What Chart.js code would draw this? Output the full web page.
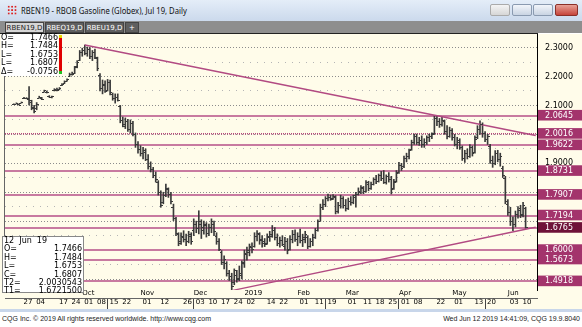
<!DOCTYPE html>
<html lang="en">
<head>
<meta charset="UTF-8">
<title>RBEN19 - RBOB Gasoline (Globex), Jul 19, Daily</title>
<script src="https://cdn.jsdelivr.net/npm/chart.js"></script>
<style>
  body { margin: 0; width: 582px; height: 327px; overflow: hidden; background: #fff; position: relative; font-family: "DejaVu Sans", sans-serif; }
  .abs { position: absolute; }
  #titlebar { left: 0; top: 0; width: 582px; height: 21px; background: linear-gradient(#e4edf8, #cbd9ec); }
  #titletext { left: 21px; top: 4px; font: 9px "Noto Sans", sans-serif; color: #111; white-space: nowrap; transform: scaleX(0.85); transform-origin: 0 0; }
  #icon { left: 7px; top: 5px; width: 10px; height: 10px; background: radial-gradient(circle, #d22 35%, transparent 40%) 0 0 / 3.4px 3.4px; }
  .wbtn { top: 4px; height: 12px; border: 1px solid #8a9ab0; border-radius: 2px; background: linear-gradient(#f2f5fa, #c9d4e3); box-sizing: border-box; }
  #tabs { left: 0; top: 21px; width: 582px; height: 12px; background: #8e8e8e; }
  .tab { top: 1px; height: 11px; font: 7px "DejaVu Sans", sans-serif; line-height: 11px; text-align: center; color: #fff; background: #5f5f5f; border: 1px solid #444; box-sizing: border-box; }
  #topline { left: 0; top: 33px; width: 538px; height: 1px; background: #222; }
  #leftline { left: 4px; top: 34px; width: 1px; height: 256px; background: #666; }
  #chartwrap { left: 0; top: 34px; width: 582px; height: 275px; background: #fffcea; }
  #chartwrap canvas { display: block; }
  #frame { left: 0; top: 309px; width: 582px; height: 3px; background: #c8d6ea; }
  #footer { left: 0; top: 312px; width: 582px; height: 15px; background: #fff; font: 7px "Liberation Sans", sans-serif; color: #222; }
  .box { background: #fff; font: 8px "DejaVu Sans", sans-serif; color: #000; }
  .row { display: flex; justify-content: space-between; height: 8.4px; line-height: 8.4px; white-space: nowrap; }
</style>
</head>
<body>
<div id="titlebar" class="abs">
  <div id="icon" class="abs"></div>
  <div id="titletext" class="abs">RBEN19 - RBOB Gasoline (Globex), Jul 19, Daily</div>
  <div class="abs wbtn" style="left:490px;width:20px;background:linear-gradient(#f4f4f4,#d6d6d6);border-color:#aaa"></div>
  <div class="abs wbtn" style="left:512px;width:20px"></div>
  <div class="abs wbtn" style="left:533px;width:20px"></div>
  <div class="abs wbtn" style="left:555px;width:23px;background:linear-gradient(#e8a197,#c6443a);border-color:#8a2f28"></div>
</div>
<div id="tabs" class="abs">
  <div class="abs tab" style="left:5px;width:39px;background:#d6d6d6;color:#222">RBEN19,D</div>
  <div class="abs tab" style="left:45px;width:39px">RBEQ19,D</div>
  <div class="abs tab" style="left:85px;width:39px">RBEU19,D</div>
  <div class="abs tab" style="left:125px;width:14px">+</div>
</div>
<div id="chartwrap" class="abs"><canvas id="chart" width="582" height="275"></canvas></div>
<div id="topline" class="abs"></div>
<div id="leftline" class="abs"></div>

<div class="abs box" style="left:1px;top:34px;width:57px;height:42px;">
  <div class="row"><span>O=</span><span>1.7466</span></div>
  <div class="row"><span>H=</span><span>1.7484</span></div>
  <div class="row"><span>L=</span><span>1.6753</span></div>
  <div class="row"><span>L=</span><span>1.6807</span></div>
  <div class="row"><span>&Delta;=</span><span>-0.0756</span></div>
</div>
<div class="abs" style="left:59px;top:37px;width:3px;height:36px;background:#e00000"></div>
<div class="abs" style="left:59px;top:35px;width:3px;height:3px;background:#e8d800"></div>
<div class="abs" style="left:59px;top:71px;width:3px;height:3px;background:#20c020"></div>

<div class="abs box" style="left:2px;top:236px;width:82px;height:57px;border:1px solid #888;padding:0 1px;box-sizing:border-box;">
  <div class="row"><span>12&nbsp; Jun&nbsp; 19</span><span></span></div>
  <div class="row"><span>O=</span><span>1.7466</span></div>
  <div class="row"><span>H=</span><span>1.7484</span></div>
  <div class="row"><span>L=</span><span>1.6753</span></div>
  <div class="row"><span>C=</span><span>1.6807</span></div>
  <div class="row"><span>T2=</span><span>2.0030543</span></div>
  <div class="row"><span>T1=</span><span>1.6721500</span></div>
</div>

<div id="frame" class="abs"></div>
<div id="footer" class="abs">
  <div class="abs" style="left:2px;top:3px">CQG Inc. &copy; 2019 All rights reserved worldwide. http://www.cqg.com</div>
  <div class="abs" style="right:2px;top:3px">Wed Jun 12 2019 14:41:09, CQG 19.9.8040</div>
</div>

<script>
const padBefore = ['2018-08-17', '2018-08-20', '2018-08-21'];
const padAfter = ['2019-06-13', '2019-06-14', '2019-06-17', '2019-06-18'];
const dates = [
  '2018-08-22','2018-08-23','2018-08-24','2018-08-27','2018-08-28','2018-08-29','2018-08-30','2018-08-31',
  '2018-09-04','2018-09-05','2018-09-06','2018-09-07','2018-09-10','2018-09-11','2018-09-12','2018-09-13','2018-09-14',
  '2018-09-17','2018-09-18','2018-09-19','2018-09-20','2018-09-21','2018-09-24','2018-09-25','2018-09-26','2018-09-27','2018-09-28',
  '2018-10-01','2018-10-02','2018-10-03','2018-10-04','2018-10-05','2018-10-08','2018-10-09','2018-10-10','2018-10-11','2018-10-12',
  '2018-10-15','2018-10-16','2018-10-17','2018-10-18','2018-10-19','2018-10-22','2018-10-23','2018-10-24','2018-10-25','2018-10-26',
  '2018-10-29','2018-10-30','2018-10-31',
  '2018-11-01','2018-11-02','2018-11-05','2018-11-06','2018-11-07','2018-11-08','2018-11-09','2018-11-12','2018-11-13','2018-11-14',
  '2018-11-15','2018-11-16','2018-11-19','2018-11-20','2018-11-21','2018-11-23','2018-11-26','2018-11-27','2018-11-28','2018-11-29','2018-11-30',
  '2018-12-03','2018-12-04','2018-12-05','2018-12-06','2018-12-07','2018-12-10','2018-12-11','2018-12-12','2018-12-13','2018-12-14',
  '2018-12-17','2018-12-18','2018-12-19','2018-12-20','2018-12-21','2018-12-24','2018-12-26','2018-12-27','2018-12-28','2018-12-31',
  '2019-01-02','2019-01-03','2019-01-04','2019-01-07','2019-01-08','2019-01-09','2019-01-10','2019-01-11','2019-01-14','2019-01-15',
  '2019-01-16','2019-01-17','2019-01-18','2019-01-22','2019-01-23','2019-01-24','2019-01-25','2019-01-28','2019-01-29','2019-01-30','2019-01-31',
  '2019-02-01','2019-02-04','2019-02-05','2019-02-06','2019-02-07','2019-02-08','2019-02-11','2019-02-12','2019-02-13','2019-02-14',
  '2019-02-15','2019-02-19','2019-02-20','2019-02-21','2019-02-22','2019-02-25','2019-02-26','2019-02-27','2019-02-28',
  '2019-03-01','2019-03-04','2019-03-05','2019-03-06','2019-03-07','2019-03-08','2019-03-11','2019-03-12','2019-03-13','2019-03-14',
  '2019-03-15','2019-03-18','2019-03-19','2019-03-20','2019-03-21','2019-03-22','2019-03-25','2019-03-26','2019-03-27','2019-03-28','2019-03-29',
  '2019-04-01','2019-04-02','2019-04-03','2019-04-04','2019-04-05','2019-04-08','2019-04-09','2019-04-10','2019-04-11','2019-04-12',
  '2019-04-15','2019-04-16','2019-04-17','2019-04-18','2019-04-22','2019-04-23','2019-04-24','2019-04-25','2019-04-26','2019-04-29','2019-04-30',
  '2019-05-01','2019-05-02','2019-05-03','2019-05-06','2019-05-07','2019-05-08','2019-05-09','2019-05-10','2019-05-13','2019-05-14',
  '2019-05-15','2019-05-16','2019-05-17','2019-05-20','2019-05-21','2019-05-22','2019-05-23','2019-05-24','2019-05-28','2019-05-29',
  '2019-05-30','2019-05-31',
  '2019-06-03','2019-06-04','2019-06-05','2019-06-06','2019-06-07','2019-06-10','2019-06-11','2019-06-12'
];
const opens = [
  2.105,2.106,2.104,2.109,2.125,2.126,2.125,2.113,2.095,2.090,
  2.127,2.126,2.148,2.148,2.133,2.128,2.152,2.155,2.156,2.170,
  2.178,2.186,2.203,2.210,2.212,2.235,2.258,2.285,2.290,2.280,
  2.295,2.270,2.285,2.265,2.205,2.160,2.170,2.155,2.180,2.140,
  2.125,2.128,2.098,2.050,2.030,2.045,2.020,2.040,2.000,1.965,
  1.950,1.935,1.940,1.915,1.890,1.880,1.860,1.835,1.800,1.765,
  1.790,1.810,1.795,1.750,1.710,1.655,1.630,1.645,1.640,1.632,
  1.650,1.670,1.690,1.675,1.690,1.670,1.685,1.660,1.680,1.690,
  1.650,1.630,1.595,1.560,1.555,1.520,1.510,1.490,1.515,1.505,
  1.515,1.560,1.585,1.595,1.610,1.615,1.650,1.655,1.640,1.630,
  1.625,1.645,1.650,1.670,1.645,1.625,1.635,1.615,1.630,1.605,
  1.640,1.655,1.640,1.650,1.635,1.640,1.645,1.615,1.630,1.645,
  1.670,1.702,1.750,1.758,1.780,1.785,1.780,1.785,1.735,1.755,
  1.780,1.755,1.745,1.770,1.765,1.790,1.795,1.800,1.815,1.805,
  1.830,1.815,1.828,1.845,1.840,1.858,1.850,1.835,1.855,1.845,
  1.815,1.840,1.870,1.895,1.890,1.918,1.925,1.948,1.975,1.995,
  1.975,1.980,1.965,1.975,1.990,1.995,2.005,2.055,2.045,2.035,
  2.045,2.010,1.995,2.015,1.990,1.965,1.975,1.955,1.920,1.935,
  1.925,1.955,1.940,1.990,2.020,2.035,2.005,1.985,1.960,1.910,
  1.900,1.935,1.915,1.885,1.850,1.760,1.730,1.700,1.690,1.725,
  1.745,1.725,1.7466
];
const highs = [
  2.106,2.109,2.106,2.112,2.128,2.127,2.165,2.118,2.100,2.110,
  2.132,2.128,2.153,2.150,2.134,2.132,2.158,2.160,2.162,2.176,
  2.185,2.192,2.212,2.215,2.235,2.255,2.290,2.298,2.309,2.302,
  2.300,2.290,2.295,2.267,2.210,2.188,2.185,2.190,2.188,2.143,
  2.140,2.140,2.100,2.060,2.057,2.052,2.050,2.045,2.005,1.975,
  1.961,1.955,1.950,1.930,1.905,1.886,1.870,1.840,1.805,1.800,
  1.828,1.815,1.800,1.759,1.713,1.660,1.660,1.667,1.655,1.665,
  1.660,1.708,1.700,1.736,1.705,1.700,1.695,1.690,1.708,1.700,
  1.660,1.640,1.598,1.580,1.560,1.530,1.520,1.535,1.530,1.545,
  1.563,1.600,1.610,1.621,1.625,1.660,1.667,1.660,1.650,1.640,
  1.656,1.665,1.685,1.678,1.656,1.645,1.650,1.644,1.640,1.650,
  1.668,1.670,1.660,1.673,1.655,1.665,1.650,1.640,1.655,1.675,
  1.705,1.759,1.775,1.785,1.794,1.790,1.792,1.788,1.765,1.790,
  1.785,1.775,1.780,1.785,1.790,1.800,1.815,1.823,1.820,1.840,
  1.838,1.835,1.850,1.858,1.863,1.872,1.875,1.860,1.868,1.855,
  1.845,1.875,1.903,1.900,1.925,1.935,1.949,1.980,2.001,2.001,
  1.990,1.995,1.985,1.995,2.001,2.005,2.065,2.062,2.055,2.060,
  2.050,2.030,2.025,2.020,2.000,1.990,1.985,1.960,1.945,1.950,
  1.965,1.960,1.995,2.030,2.047,2.040,2.010,2.000,1.966,1.925,
  1.944,1.945,1.935,1.890,1.855,1.775,1.748,1.715,1.735,1.750,
  1.755,1.765,1.7484
];
const lows = [
  2.104,2.105,2.102,2.108,2.124,2.123,2.102,2.085,2.074,2.085,
  2.125,2.120,2.146,2.143,2.128,2.126,2.150,2.150,2.154,2.168,
  2.176,2.184,2.200,2.205,2.210,2.230,2.255,2.270,2.275,2.270,
  2.262,2.255,2.262,2.220,2.150,2.140,2.145,2.150,2.136,2.118,
  2.108,2.115,2.040,2.026,2.020,2.010,2.005,1.995,1.955,1.935,
  1.925,1.915,1.909,1.880,1.870,1.850,1.835,1.790,1.748,1.760,
  1.785,1.782,1.760,1.702,1.650,1.615,1.620,1.628,1.615,1.625,
  1.620,1.650,1.660,1.656,1.640,1.655,1.645,1.650,1.660,1.650,
  1.620,1.598,1.550,1.535,1.510,1.495,1.460,1.480,1.489,1.494,
  1.500,1.540,1.565,1.580,1.590,1.610,1.632,1.620,1.610,1.612,
  1.620,1.630,1.644,1.635,1.615,1.610,1.615,1.600,1.587,1.600,
  1.625,1.630,1.615,1.625,1.612,1.625,1.605,1.610,1.615,1.640,
  1.665,1.700,1.740,1.750,1.770,1.772,1.775,1.725,1.728,1.745,
  1.745,1.735,1.740,1.755,1.760,1.748,1.790,1.795,1.795,1.800,
  1.805,1.810,1.825,1.830,1.835,1.840,1.830,1.828,1.835,1.794,
  1.810,1.835,1.865,1.875,1.885,1.905,1.915,1.945,1.965,1.965,
  1.962,1.955,1.955,1.965,1.975,1.985,2.000,2.030,2.024,2.028,
  2.000,1.984,1.990,1.980,1.960,1.950,1.948,1.910,1.903,1.915,
  1.920,1.925,1.935,1.985,2.000,1.990,1.975,1.965,1.900,1.886,
  1.895,1.905,1.890,1.851,1.760,1.720,1.685,1.667,1.680,1.710,
  1.712,1.715,1.6753
];
const closes = [
  2.105,2.108,2.103,2.111,2.127,2.124,2.120,2.090,2.080,2.105,
  2.130,2.122,2.152,2.145,2.130,2.131,2.156,2.152,2.160,2.174,
  2.183,2.190,2.210,2.207,2.232,2.250,2.285,2.290,2.280,2.295,
  2.270,2.285,2.268,2.230,2.160,2.175,2.150,2.180,2.145,2.125,
  2.130,2.120,2.050,2.035,2.045,2.020,2.040,2.000,1.965,1.950,
  1.935,1.945,1.915,1.890,1.880,1.860,1.845,1.800,1.755,1.790,
  1.815,1.795,1.770,1.710,1.660,1.625,1.650,1.640,1.630,1.655,
  1.630,1.690,1.675,1.700,1.680,1.690,1.660,1.680,1.700,1.665,
  1.630,1.605,1.560,1.570,1.520,1.510,1.475,1.530,1.500,1.520,
  1.555,1.590,1.600,1.615,1.605,1.650,1.660,1.635,1.625,1.620,
  1.650,1.655,1.670,1.645,1.625,1.635,1.620,1.630,1.600,1.640,
  1.655,1.640,1.650,1.635,1.645,1.655,1.615,1.630,1.645,1.670,
  1.700,1.750,1.760,1.780,1.785,1.778,1.788,1.735,1.755,1.780,
  1.755,1.745,1.770,1.765,1.785,1.795,1.805,1.818,1.805,1.835,
  1.815,1.828,1.845,1.840,1.858,1.850,1.835,1.855,1.845,1.810,
  1.835,1.868,1.895,1.885,1.918,1.925,1.945,1.975,1.995,1.975,
  1.980,1.965,1.975,1.990,1.995,2.000,2.055,2.045,2.035,2.050,
  2.010,1.995,2.015,1.990,1.965,1.980,1.955,1.920,1.935,1.925,
  1.955,1.935,1.985,2.020,2.035,2.005,1.985,1.995,1.910,1.900,
  1.935,1.915,1.925,1.860,1.770,1.730,1.700,1.690,1.725,1.740,
  1.722,1.7563,1.6807
];

// horizontal study lines and the right-axis price labels
const levels = [2.0645, 2.0016, 1.9622, 1.8731, 1.7907, 1.7194, 1.6765, 1.6000, 1.5673, 1.4918];
const axisPrices = [2.3, 2.2, 2.1, 1.9];
const gridPrices = [2.3, 2.25, 2.2, 2.15, 2.1, 2.05, 2.0, 1.95, 1.9, 1.85, 1.8, 1.75, 1.7, 1.65, 1.55, 1.5];

// trend lines (date, price)
const t2Dates = ['2018-10-02', '2019-06-12', '2019-06-18'];
const t2Prices = [2.309, 2.0030543, 1.9960];
const t1Dates = ['2018-12-24', '2019-06-12', '2019-06-18'];
const t1Prices = [1.460, 1.6721500, 1.6795];

const monthDates = ['2018-10-01','2018-11-01','2018-12-03','2019-01-02','2019-02-01','2019-03-01','2019-04-01','2019-05-01','2019-06-03'];
const monthNames = ['Oct','Nov','Dec','2019','Feb','Mar','Apr','May','Jun'];
const dayDates = ['2018-08-27','2018-09-04','2018-09-17','2018-09-24','2018-10-01','2018-10-08','2018-10-15','2018-10-22',
  '2018-11-01','2018-11-12','2018-11-26','2018-12-03','2018-12-10','2018-12-17','2018-12-24','2019-01-02','2019-01-14','2019-01-22',
  '2019-02-01','2019-02-11','2019-02-19','2019-03-01','2019-03-11','2019-03-18','2019-03-25','2019-04-01','2019-04-08','2019-04-22',
  '2019-05-01','2019-05-13','2019-05-20','2019-06-03','2019-06-10'];

const cats = [...padBefore, ...dates, ...padAfter];
const barData = cats.map(c => { const i = dates.indexOf(c); return i < 0 ? null : [lows[i], highs[i]]; });
const lineData = (ds, ps) => cats.map(c => { const i = ds.indexOf(c); return i < 0 ? null : ps[i]; });

const isLevel = v => levels.includes(v);
const levelLine = 'rgb(200,122,160)';
const barColor = '#3a3a3a';

// open / close ticks beside each high-low bar
const ohlcTicks = {
  id: 'ohlcTicks',
  afterDatasetsDraw(chart) {
    const meta = chart.getDatasetMeta(2);
    const y = chart.scales.y;
    const ctx = chart.ctx;
    ctx.save();
    ctx.strokeStyle = barColor;
    ctx.lineWidth = 1;
    meta.data.forEach((bar, k) => {
      const i = dates.indexOf(cats[k]);
      if (i < 0 || !bar) return;
      const x = Math.round(bar.x);
      const yo = Math.round(y.getPixelForValue(opens[i])) + 0.5;
      const yc = Math.round(y.getPixelForValue(closes[i])) + 0.5;
      ctx.beginPath();
      ctx.moveTo(x - 2, yo); ctx.lineTo(x, yo);
      ctx.moveTo(x, yc); ctx.lineTo(x + 2, yc);
      ctx.stroke();
    });
    ctx.restore();
  }
};

const noPad = s => { s.paddingTop = 0; s.paddingBottom = 0; s.paddingLeft = 0; s.paddingRight = 0; };

new Chart(document.getElementById('chart'), {
  data: {
    labels: cats,
    datasets: [
      { type: 'line', label: 'T2', data: lineData(t2Dates, t2Prices), spanGaps: true, borderColor: '#b24a82', borderWidth: 1.4, pointRadius: 0, order: 0 },
      { type: 'line', label: 'T1', data: lineData(t1Dates, t1Prices), spanGaps: true, borderColor: '#b24a82', borderWidth: 1.4, pointRadius: 0, order: 0 },
      { type: 'bar', label: 'RBEN19', data: barData, backgroundColor: barColor, barThickness: 1, order: 1 }
    ]
  },
  options: {
    responsive: false,
    animation: false,
    devicePixelRatio: 1,
    layout: { autoPadding: false, padding: { left: 5, top: 0, right: 0, bottom: 0 } },
    plugins: { legend: { display: false }, tooltip: { enabled: false } },
    scales: {
      x: {
        type: 'category', position: 'bottom', weight: 0, offset: true,
        afterFit: s => { s.height = 8; noPad(s); },
        ticks: {
          autoSkip: false, maxRotation: 0, align: 'start', padding: -1,
          font: { family: 'DejaVu Sans', size: 7 }, color: '#000',
          callback: (v, i) => { const k = monthDates.indexOf(cats[i]); return k < 0 ? null : monthNames[k]; }
        },
        grid: {
          offset: false, drawTicks: false,
          color: c => monthDates.includes(cats[c.index]) ? '#8c8c8c' : 'rgba(0,0,0,0)'
        },
        border: { display: false, dash: [1, 2] }
      },
      xd: {
        type: 'category', position: 'bottom', weight: 1, offset: true,
        afterFit: s => { s.height = 11; noPad(s); },
        ticks: {
          autoSkip: false, maxRotation: 0, align: 'start', padding: -11, labelOffset: 2,
          font: { family: 'DejaVu Sans', size: 7 }, color: '#000',
          callback: (v, i) => dayDates.includes(cats[i]) ? cats[i].slice(8) : null
        },
        grid: {
          offset: false, drawOnChartArea: false, drawTicks: true, tickLength: 11,
          color: 'rgba(0,0,0,0)',
          tickColor: c => dayDates.includes(cats[c.index]) ? '#444' : 'rgba(0,0,0,0)'
        },
        border: { display: true, color: '#666', width: 1 }
      },
      y: {
        position: 'right', min: 1.462, max: 2.347,
        afterFit: s => { s.width = 45; noPad(s); },
        afterBuildTicks: s => { s.ticks = [...gridPrices, ...levels].sort((a, b) => a - b).map(v => ({ value: v })); },
        ticks: {
          autoSkip: false, padding: 8,
          font: { family: 'DejaVu Sans', size: 8 },
          color: c => isLevel(c.tick.value) ? '#fff' : '#000',
          showLabelBackdrop: true,
          backdropColor: c => !isLevel(c.tick.value) ? 'rgba(0,0,0,0)' : (c.tick.value === 1.6765 ? '#6e1238' : '#a3346c'),
          backdropPadding: { top: 1, bottom: 0, left: 7, right: 9 },
          callback: v => (isLevel(v) || axisPrices.includes(v)) ? v.toFixed(4) : ''
        },
        grid: {
          drawTicks: false,
          color: c => {
            if (!c.tick) return '#000';
            const v = c.tick.value;
            if (v === 2.0016) return '#b8487c';
            if (isLevel(v)) return levelLine;
            return Math.round(v * 100) % 10 === 0 ? '#8c8c8c' : '#b5b5b5';
          },
          lineWidth: c => {
            if (!c.tick) return 1;
            if (c.tick.value === 2.0016) return 1.5;
            return isLevel(c.tick.value) ? 2 : 1;
          }
        },
        border: {
          display: true, color: '#000', width: 1,
          dash: c => {
            if (!c.tick) return [];
            const v = c.tick.value;
            if (v === 2.0016) return [1, 1];
            if (isLevel(v)) return [];
            return Math.round(v * 100) % 10 === 0 ? [1, 2] : [1, 6];
          }
        }
      }
    }
  },
  plugins: [ohlcTicks]
});
</script>
</body>
</html>
